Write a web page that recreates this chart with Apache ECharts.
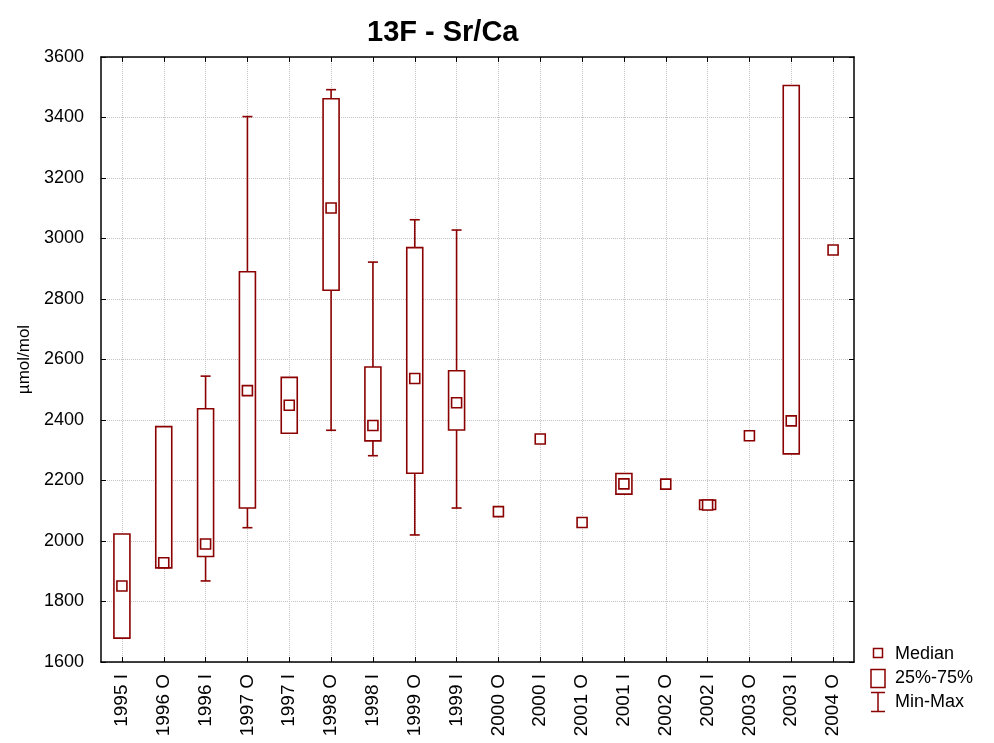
<!DOCTYPE html>
<html>
<head>
<meta charset="utf-8">
<script src="https://cdn.jsdelivr.net/npm/echarts@6/dist/echarts.min.js"></script>
<style>
html,body{margin:0;padding:0;background:#fff;}
#chart{width:994px;height:743px;}
</style>
</head>
<body>
<div id="chart"></div>
<script>
var categories = ['1995 I','1996 O','1996 I','1997 O','1997 I','1998 O','1998 I','1999 O','1999 I','2000 O','2000 I','2001 O','2001 I','2002 O','2002 I','2003 O','2003 I','2004 O'];
var medians = [1851,1928,1990,2497,2449,3101,2382,2537,2457,2097,2337,2061,2189,2188,2119,2348,2397,2962];
var q1s  = [1679,1911,1949,2109,2356,2829,2331,2224,2367,null,null,null,2155,null,2104,null,2288,null];
var q3s  = [2023,2378,2437,2890,2541,3462,2575,2970,2563,null,null,null,2223,null,2135,null,3506,null];
var mins = [1679,1911,1868,2044,2356,2366,2282,2020,2109,null,null,null,2155,null,2104,null,2288,null];
var maxs = [2023,2378,2545,3403,2541,3492,2922,3062,3028,null,null,null,2223,null,2135,null,3506,null];

var C = '#8B0000';
var FONT = "'Liberation Sans', Arial, sans-serif";

var boxData = [], whiskerData = [], medianData = [];
categories.forEach(function(c, i){
  medianData.push([i, medians[i]]);
  if (q1s[i] != null) {
    boxData.push([i, q1s[i], q3s[i]]);
    whiskerData.push([i, mins[i], q1s[i], q3s[i], maxs[i]]);
  }
});

var chart = echarts.init(document.getElementById('chart'), null, {renderer:'canvas'});
chart.setOption({
  backgroundColor:'#fff',
  animation:false,
  title:{text:'13F - Sr/Ca', left:362, top:13, textStyle:{fontFamily:FONT, fontSize:29, fontWeight:'bold', color:'#000'}},
  grid:{left:101, top:57, width:753, height:605},
  xAxis:[{
    type:'category', data:categories, position:'bottom', boundaryGap:true,
    axisLine:{show:true, onZero:false, lineStyle:{color:'#000', width:1.5}},
    axisTick:{show:true, inside:true, alignWithLabel:true, interval:0, length:5, lineStyle:{color:'#000'}},
    axisLabel:{rotate:90, interval:0, margin:12, fontFamily:FONT, fontSize:19, color:'#000'},
    splitLine:{show:true, interval:0, alignWithLabel:true, lineStyle:{type:'dotted', color:'#c4c4c4', width:1}}
  },{
    type:'category', data:categories, position:'top', boundaryGap:true,
    axisLine:{show:true, onZero:false, lineStyle:{color:'#000', width:1.5}},
    axisTick:{show:true, inside:true, alignWithLabel:true, interval:0, length:5, lineStyle:{color:'#000'}},
    axisLabel:{show:false}, splitLine:{show:false}
  }],
  yAxis:[{
    type:'value', min:1600, max:3600, interval:200, position:'left',
    name:'µmol/mol', nameLocation:'middle', nameGap:68, nameRotate:90,
    nameTextStyle:{fontFamily:FONT, fontSize:17, color:'#000'},
    axisLine:{show:true, onZero:false, lineStyle:{color:'#000', width:1.5}},
    axisTick:{show:true, inside:true, length:5, lineStyle:{color:'#000'}},
    axisLabel:{margin:17, fontFamily:FONT, fontSize:18, color:'#000',
      formatter:function(v){ return String(v); }},
    splitLine:{show:true, lineStyle:{type:'dotted', color:'#c4c4c4', width:1}}
  },{
    type:'value', min:1600, max:3600, interval:200, position:'right',
    axisLine:{show:true, onZero:false, lineStyle:{color:'#000', width:1.5}},
    axisTick:{show:true, inside:true, length:5, lineStyle:{color:'#000'}},
    axisLabel:{show:false}, splitLine:{show:false}
  }],
  series:[{
    name:'25%-75%', type:'custom', xAxisIndex:0, yAxisIndex:0, z:3,
    encode:{x:0, y:[1,2]},
    data:boxData,
    renderItem:function(params, api){
      var x = api.value(0);
      var lo = api.coord([x, api.value(1)]);
      var hi = api.coord([x, api.value(2)]);
      var w = 16;
      return {type:'rect', shape:{x:lo[0]-w/2, y:hi[1], width:w, height:Math.max(lo[1]-hi[1],0.5)},
        style:{fill:'#fff', stroke:C, lineWidth:1.6}};
    }
  },{
    name:'Min-Max', type:'custom', xAxisIndex:0, yAxisIndex:0, z:2,
    encode:{x:0, y:[1,4]},
    data:whiskerData,
    renderItem:function(params, api){
      var x = api.value(0);
      var pMin = api.coord([x, api.value(1)]);
      var pQ1 = api.coord([x, api.value(2)]);
      var pQ3 = api.coord([x, api.value(3)]);
      var pMax = api.coord([x, api.value(4)]);
      var cw = 5;
      var ch = [];
      var st = {stroke:C, lineWidth:1.6};
      if (api.value(4) > api.value(3)) {
        ch.push({type:'line', shape:{x1:pQ3[0], y1:pQ3[1], x2:pMax[0], y2:pMax[1]}, style:st});
        ch.push({type:'line', shape:{x1:pMax[0]-cw, y1:pMax[1], x2:pMax[0]+cw, y2:pMax[1]}, style:st});
      }
      if (api.value(1) < api.value(2)) {
        ch.push({type:'line', shape:{x1:pQ1[0], y1:pQ1[1], x2:pMin[0], y2:pMin[1]}, style:st});
        ch.push({type:'line', shape:{x1:pMin[0]-cw, y1:pMin[1], x2:pMin[0]+cw, y2:pMin[1]}, style:st});
      }
      return {type:'group', children:ch};
    }
  },{
    name:'Median', type:'scatter', xAxisIndex:0, yAxisIndex:0, z:4,
    symbol:'rect', symbolSize:10,
    itemStyle:{color:'#fff', borderColor:C, borderWidth:1.6, opacity:1},
    data:medianData
  }],
  graphic:[
    {type:'rect', shape:{x:873.5, y:648.5, width:9, height:9}, style:{fill:'#fff', stroke:C, lineWidth:1.5}},
    {type:'text', x:895, y:654, style:{text:'Median', fontFamily:FONT, fontSize:18, fill:'#000', verticalAlign:'middle'}},
    {type:'rect', shape:{x:871, y:669.5, width:14, height:18}, style:{fill:'#fff', stroke:C, lineWidth:1.5}},
    {type:'text', x:895, y:678.5, style:{text:'25%-75%', fontFamily:FONT, fontSize:18, fill:'#000', verticalAlign:'middle'}},
    {type:'line', shape:{x1:878, y1:692.5, x2:878, y2:711.5}, style:{stroke:C, lineWidth:1.5}},
    {type:'line', shape:{x1:871, y1:692.5, x2:885, y2:692.5}, style:{stroke:C, lineWidth:1.5}},
    {type:'line', shape:{x1:871, y1:711.5, x2:885, y2:711.5}, style:{stroke:C, lineWidth:1.5}},
    {type:'text', x:895, y:702, style:{text:'Min-Max', fontFamily:FONT, fontSize:18, fill:'#000', verticalAlign:'middle'}}
  ]
});
</script>
</body>
</html>
